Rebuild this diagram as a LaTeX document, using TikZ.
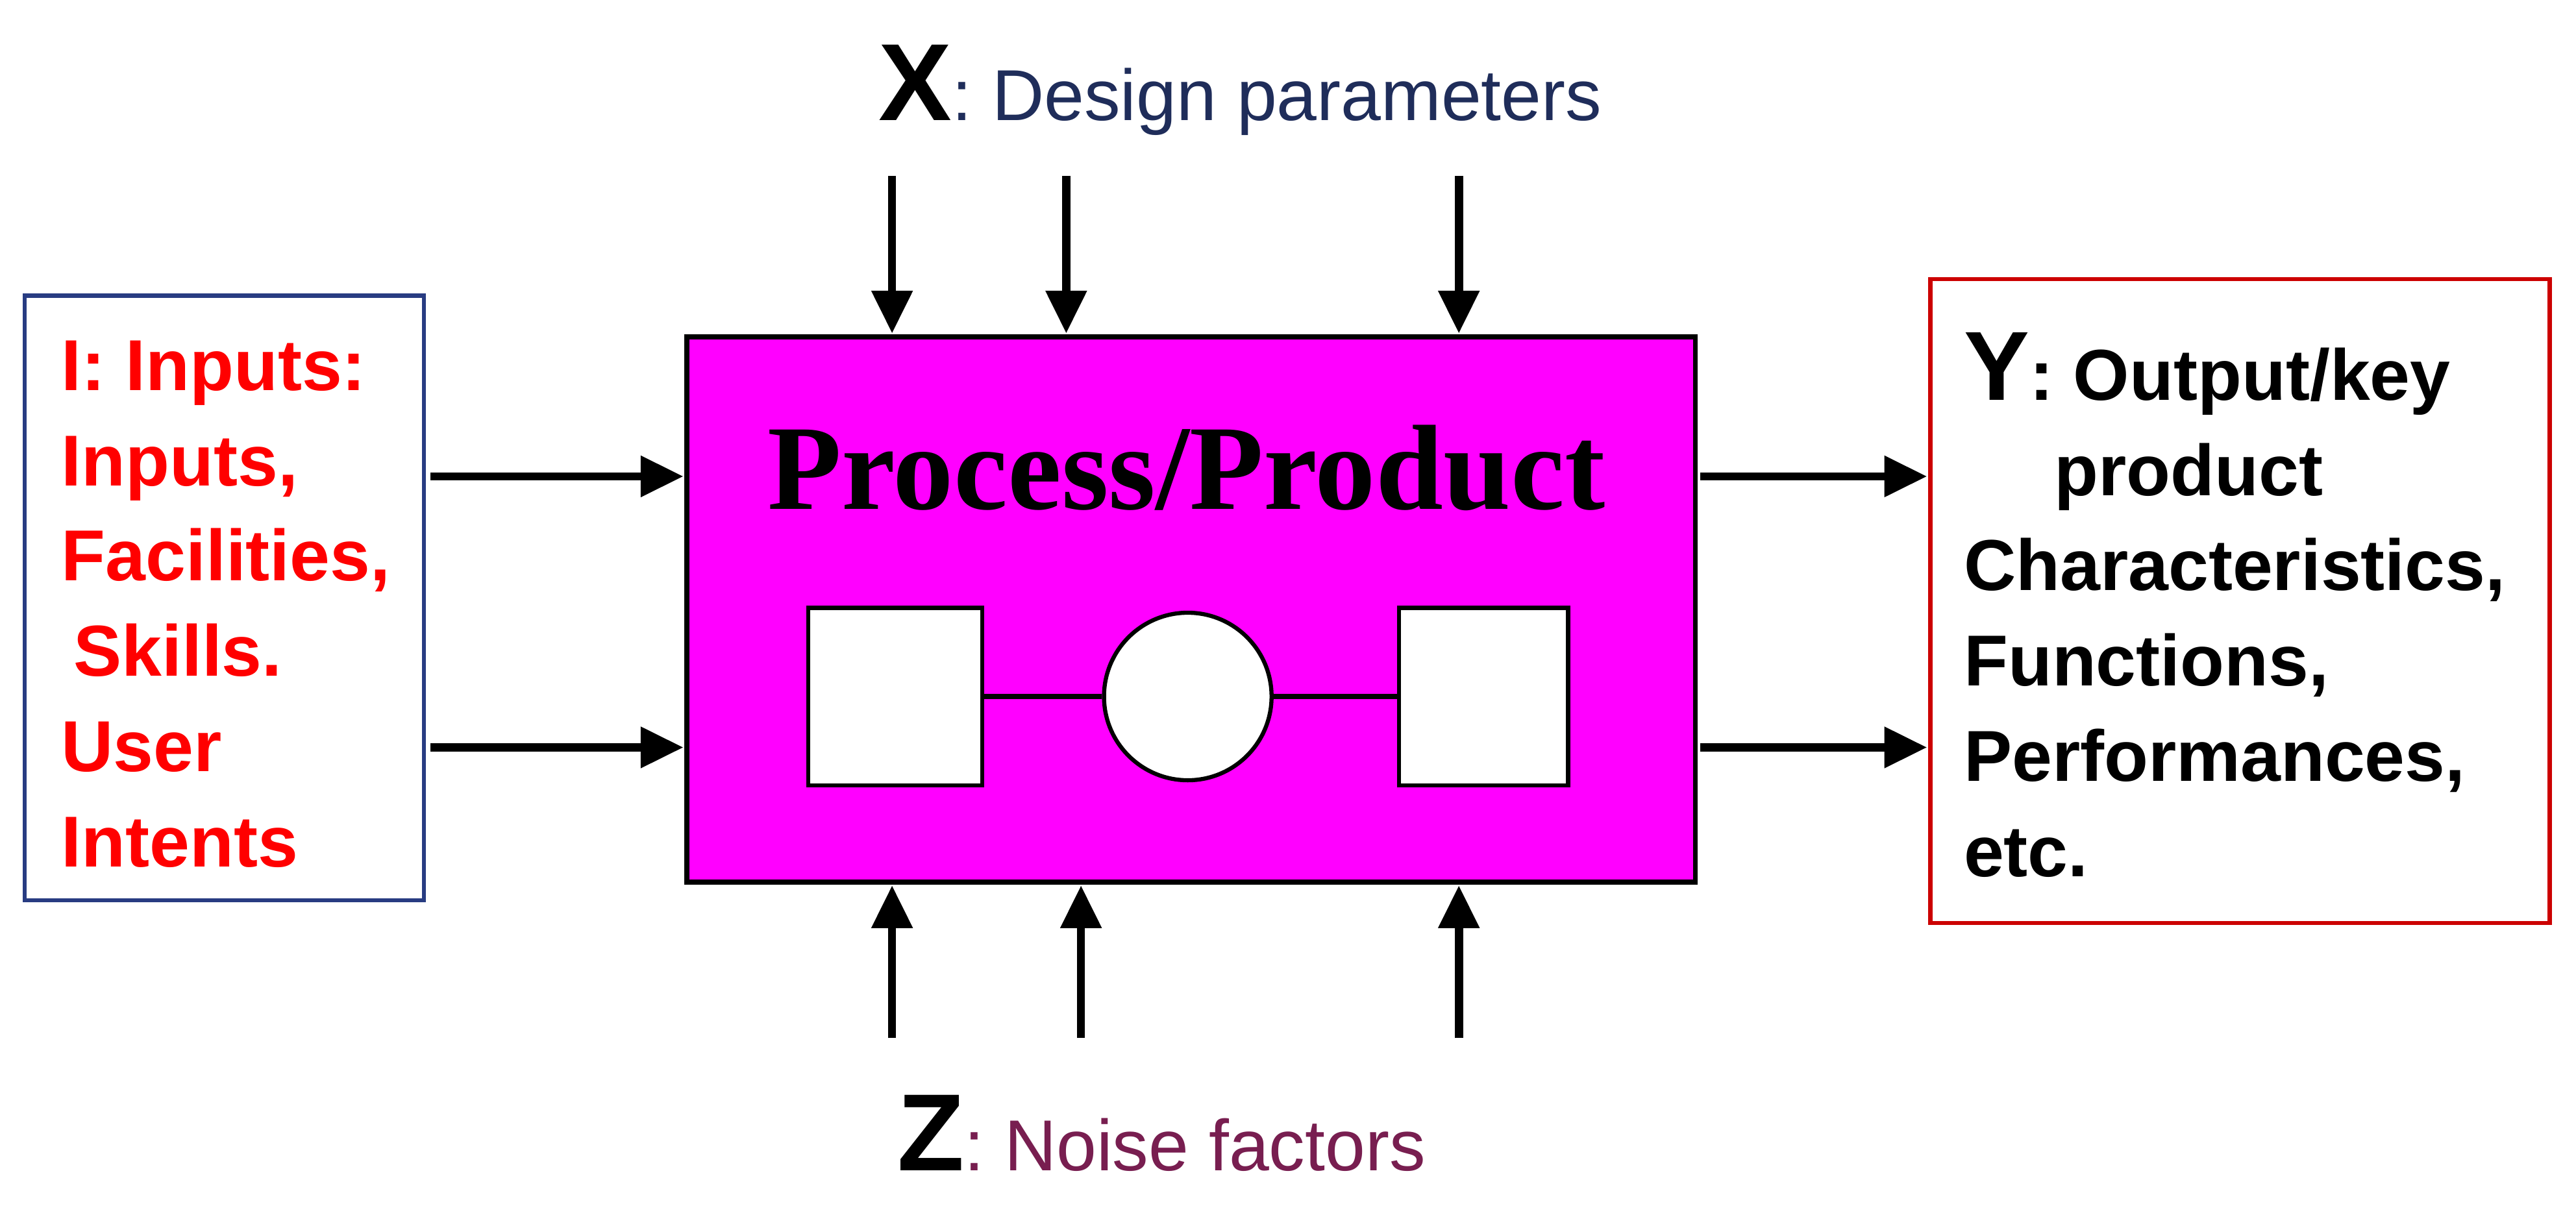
\documentclass[tikz,border=0pt]{standalone}
\usepackage{fontspec}
\setmainfont{Liberation Serif}
\newfontfamily\arialf{Liberation Sans}
\usetikzlibrary{arrows.meta,positioning}
\definecolor{magbox}{RGB}{255,0,255}
\definecolor{navytxt}{RGB}{31,45,90}
\definecolor{plumtxt}{RGB}{120,30,80}
\definecolor{bluebd}{RGB}{40,60,130}
\tikzset{
  arr/.style={line width=0.5mm,-{Triangle[length=2.6mm,width=2.4mm]}},
  blk/.style={draw,line width=0.25mm,fill=white},
  txt/.style={font=\arialf\bfseries\fontsize{12.5}{16.5}\selectfont,align=left,anchor=north west}
}
\begin{document}
\begin{tikzpicture}[x=0.1mm,y=-0.1mm]
\useasboundingbox (0,0) rectangle (1568,734);
% main box
\draw[line width=0.3mm,fill=magbox] (418,205) rectangle (1032,537);
\coordinate (boxNW) at (418,205);
\node[font=\bfseries\fontsize{21}{24}\selectfont] (title) at (722,285) {Process/Product};
\node[blk,minimum width=10.6mm,minimum height=10.8mm] (sqA) at (545,424) {};
\node[blk,circle,minimum size=10.2mm] (circ) at (723,424) {};
\node[blk,minimum width=10.3mm,minimum height=10.8mm] (sqB) at (903,424) {};
\draw[line width=0.35mm] (sqA) -- (circ) -- (sqB);
% left box
\draw[bluebd,line width=0.25mm] (15,180) rectangle (258,548);
\node[txt,text=red] (inp) at (25,195) {I: Inputs:\\Inputs,\\Facilities,\\\,Skills.\\User\\Intents};
% right box
\draw[red!80!black,line width=0.25mm] (1175,170) rectangle (1552,562);
\node[txt] (outp) at (1183,190) {{\fontsize{17}{16.5}\selectfont Y}: Output/key\\\hspace{5.5mm}product\\Characteristics,\\Functions,\\Performances,\\etc.};
% top and bottom labels
\node[font=\arialf\fontsize{12.5}{15}\selectfont,text=navytxt] (xlab) at (755,55) {{\bfseries\color{black}\fontsize{19}{20}\selectfont X}: Design parameters};
\node[font=\arialf\fontsize{12.5}{15}\selectfont,text=plumtxt] (zlab) at (707,690) {{\bfseries\color{black}\fontsize{19}{20}\selectfont Z}: Noise factors};
% arrows
\foreach \x in {543,649,888} \draw[arr] (\x,107) -- (\x,203);
\foreach \x in {543,658,888} \draw[arr] (\x,632) -- (\x,539);
\foreach \y in {290,455} {
  \draw[arr] (262,\y) -- (416,\y);
  \draw[arr] (1035,\y) -- (1173,\y);
}
\end{tikzpicture}
\end{document}
